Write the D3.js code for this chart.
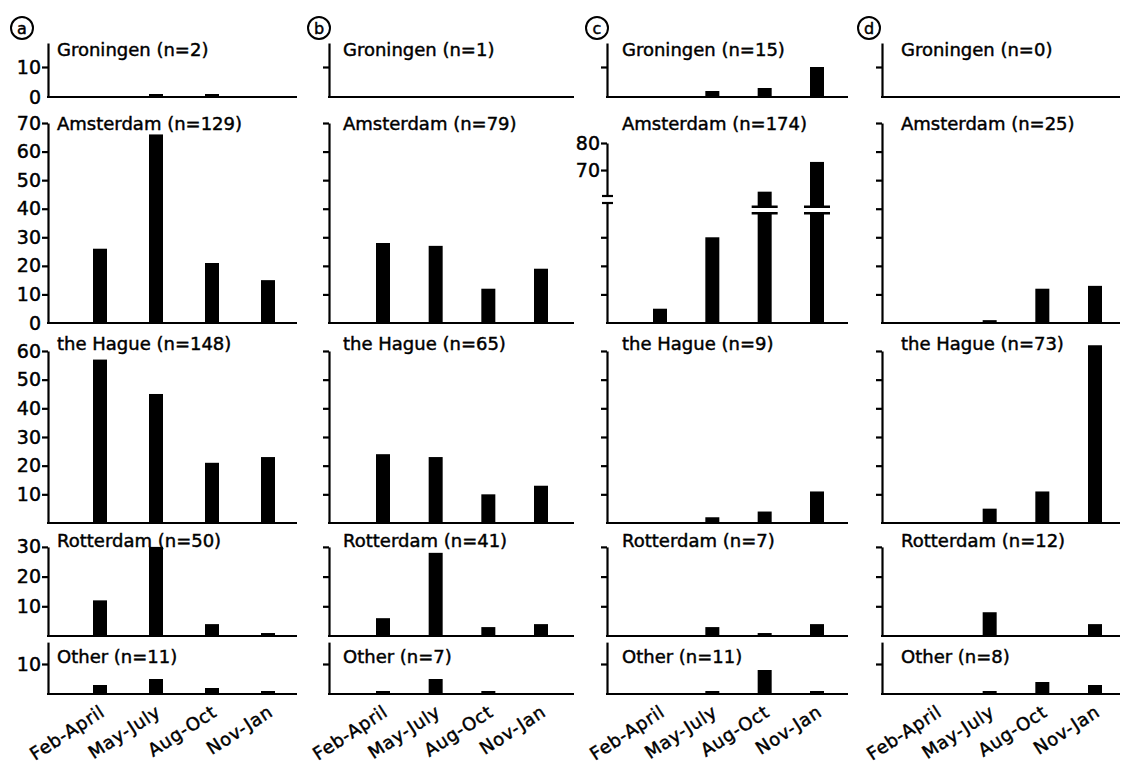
<!DOCTYPE html>
<html>
<head>
<meta charset="utf-8">
<script src="https://cdn.jsdelivr.net/npm/d3@7"></script>
<style>
  body { margin: 0; background: #fff; }
  text { font-family: "DejaVu Sans", sans-serif; fill: #000; stroke: #000; stroke-width: 0.45px; }
  .axis path, .axis line, .base, .mark { stroke: #000; stroke-width: 2.2px; fill: none; }
</style>
</head>
<body>
<svg id="chart" width="1121" height="770"></svg>
<script>

// categories
var periods = ["Feb-April", "May-July", "Aug-Oct", "Nov-Jan"];
var cities = ["Groningen", "Amsterdam", "the Hague", "Rotterdam", "Other"];
var panels = ["a", "b", "c", "d"];

// number of cases per city, one array per panel
var nA = [2, 129, 148, 50, 11];
var nB = [1, 79, 65, 41, 7];
var nC = [15, 174, 9, 7, 11];
var nD = [0, 25, 73, 12, 8];

// counts per city (rows) and period (columns), one array per panel
var countsA = [[0, 1, 1, 0], [26, 66, 21, 15], [57, 45, 21, 23], [12, 30, 4, 1], [3, 5, 2, 1]];
var countsB = [[0, 0, 0, 0], [28, 27, 12, 19], [24, 23, 10, 13], [6, 28, 3, 4], [1, 5, 1, 0]];
var countsC = [[0, 2, 3, 10], [5, 30, 62, 73], [0, 2, 4, 11], [0, 3, 1, 4], [0, 1, 8, 1]];
var countsD = [[0, 0, 0, 0], [0, 1, 12, 13], [0, 5, 11, 62], [0, 8, 0, 4], [0, 1, 4, 3]];

// tick values per city row, and the labelled ones on panel a
var yTicks = [[10], [10, 20, 30, 40, 50, 60, 70], [10, 20, 30, 40, 50, 60], [10, 20, 30], [10]];
var yLabels = [[0, 10], [0, 10, 20, 30, 40, 50, 60, 70], [10, 20, 30, 40, 50, 60], [10, 20, 30], [10]];

// broken axis, panel c Amsterdam
var lowTicks = [10, 20, 30];
var highTicks = [70, 80];

var counts = [countsA, countsB, countsC, countsD];
var ns = [nA, nB, nC, nD];

// layout
var cols = [
  { x: 48,  w: 249, p0: 52, p1: 220, tx: 9,  cx: 22 },
  { x: 329, w: 245, p0: 54, p1: 212, tx: 14, cx: 319 },
  { x: 607, w: 241, p0: 53, p1: 210, tx: 15, cx: 597 },
  { x: 882, w: 238, p0: 55, p1: 213, tx: 19, cx: 869 }
];
var rows = [
  { base: 97,  k: 3.0,   top: 18,   ty: 56 },
  { base: 323, k: 2.857, top: 70,   ty: 130 },
  { base: 523, k: 2.867, top: 60,   ty: 350 },
  { base: 636, k: 2.97,  top: 30,   ty: 547 },
  { base: 694, k: 3.0,   top: 17.3, ty: 663 }
];
var bw = 14;

var svg = d3.select("#chart");

function translate(x, y) {
  return "translate(" + x + "," + y + ")";
}

cols.forEach(function(col, ci) {
  var g = svg.append("g").attr("transform", translate(col.x, 0));

  var x = d3.scalePoint()
    .domain(periods)
    .range([col.p0, col.p1]);

  // panel letter in a circle
  svg.append("circle")
    .attr("cx", col.cx).attr("cy", 28).attr("r", 11)
    .attr("fill", "none").attr("stroke", "#000").attr("stroke-width", 2);
  svg.append("text")
    .attr("x", col.cx).attr("y", 33.5)
    .attr("text-anchor", "middle")
    .style("font-size", "16px")
    .text(panels[ci]);

  rows.forEach(function(row, ri) {
    var broken = (ci == 2 && ri == 1);
    var y;
    if (broken) {
      y = d3.scaleLinear().domain([0, 42, 60.4, 80]).range([row.base, 203, 196, 143]);
    } else {
      y = d3.scaleLinear().domain([0, row.top]).range([row.base, row.base - row.k * row.top]);
    }

    var pg = g.append("g");

    // baseline
    pg.append("line")
      .attr("class", "base")
      .attr("x1", -1).attr("x2", col.w)
      .attr("y1", y(0)).attr("y2", y(0));

    if (!broken) {
      var axis = d3.axisLeft(y)
        .tickValues(ci == 0 ? yLabels[ri] : yTicks[ri])
        .tickSize(6)
        .tickSizeOuter(0)
        .tickPadding(1)
        .tickFormat(ci == 0 ? d3.format("d") : "");
      var ag = pg.append("g").attr("class", "axis").call(axis);
      ag.selectAll(".tick line").filter(function(d) { return d === 0; }).remove();
      ag.selectAll(".tick text").style("font-size", "19px");
    } else {
      var lowY = d3.scaleLinear().domain([0, 42]).range([row.base, 203]);
      var highY = d3.scaleLinear().domain([60.4, 80]).range([196, 143]);
      pg.append("g").attr("class", "axis")
        .call(d3.axisLeft(lowY).tickValues(lowTicks).tickSize(6).tickSizeOuter(0).tickFormat(""));
      var hg = pg.append("g").attr("class", "axis")
        .call(d3.axisLeft(highY).tickValues(highTicks).tickSize(6).tickSizeOuter(0).tickPadding(1)
          .tickFormat(d3.format("d")));
      hg.selectAll(".tick text").style("font-size", "19px");
      // break marks on the axis
      [196, 203].forEach(function(yy) {
        pg.append("line").attr("class", "mark")
          .attr("x1", -5).attr("x2", 6).attr("y1", yy).attr("y2", yy);
      });
    }

    // bars
    var data = periods.map(function(p, i) { return { p: p, v: counts[ci][ri][i] }; });
    pg.selectAll("rect.bar")
      .data(data.filter(function(d) { return d.v > 0; }))
      .enter()
      .append("rect")
        .attr("class", "bar")
        .attr("x", function(d) { return x(d.p) - bw / 2; })
        .attr("y", function(d) { return y(d.v); })
        .attr("width", bw)
        .attr("height", function(d) { return y(0) - y(d.v); })
        .attr("fill", "#000");

    if (broken) {
      var tall = data.filter(function(d) { return d.v > 42; });
      tall.forEach(function(d) {
        var cx = x(d.p);
        pg.append("rect").attr("x", cx - bw / 2 - 1).attr("y", 208).attr("width", bw + 2).attr("height", 4)
          .attr("fill", "#fff");
        pg.append("rect").attr("x", cx - bw / 2 - 6).attr("y", 205.5).attr("width", bw + 12).attr("height", 2.5)
          .attr("fill", "#000");
        pg.append("rect").attr("x", cx - bw / 2 - 6).attr("y", 212).attr("width", bw + 12).attr("height", 2.5)
          .attr("fill", "#000");
      });
    }

    // panel title
    pg.append("text")
      .attr("x", col.tx)
      .attr("y", row.ty)
      .style("font-size", "18px")
      .text(cities[ri] + " (n=" + ns[ci][ri] + ")");
  });

  // period labels
  g.selectAll("text.period")
    .data(periods)
    .enter()
    .append("text")
      .attr("class", "period")
      .attr("text-anchor", "end")
      .attr("transform", function(d) { return translate(x(d) + 6, 715) + " rotate(-33)"; })
      .style("font-size", "18px")
      .style("letter-spacing", "0.6px")
      .text(function(d) { return d; });
});

</script>
</body>
</html>
